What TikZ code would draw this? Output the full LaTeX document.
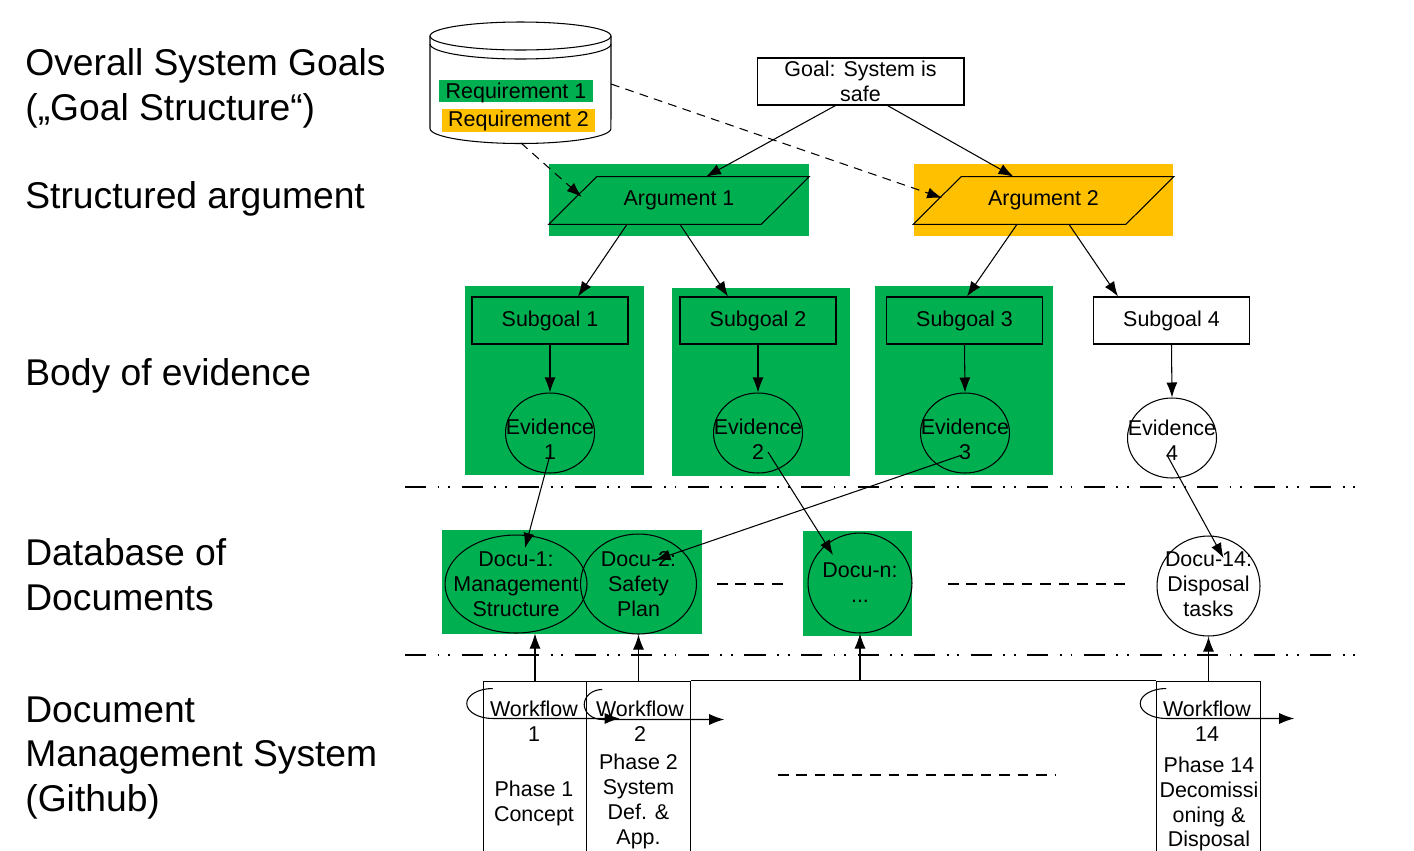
\documentclass[tikz,border=0pt]{standalone}
\usepackage{fontspec}
\setmainfont{Liberation Sans}
\usetikzlibrary{shapes.geometric, arrows.meta, calc}
\definecolor{evgreen}{HTML}{00B050}
\definecolor{evorange}{HTML}{FFC000}

\begin{document}
\begin{tikzpicture}[x=0.02cm, y=-0.02cm,
    every node/.style={font=\fontsize{12.2}{14.2}\selectfont, inner sep=0pt},
    layer/.style={anchor=west, align=left, font=\fontsize{21.2}{25.5}\selectfont},
    thinline/.style={line width=0.6pt},
    topgoal/.style={draw, thinline, minimum width=4.14cm, minimum height=0.94cm, align=center},
    sgbox/.style={draw, thinline, minimum width=3.12cm, minimum height=0.94cm},
    evnode/.style={draw, thinline, ellipse, minimum width=1.78cm, minimum height=1.6cm},
    docnode/.style={draw, thinline, ellipse, minimum height=2cm},
    sgbg/.style={fill=evgreen, minimum width=3.58cm, minimum height=3.78cm},
    argbg/.style={fill=#1, minimum width=5.2cm, minimum height=1.44cm},
    wfbox/.style={draw, thinline, minimum width=2.07cm, minimum height=3.58cm},
    arr/.style={thinline, -{Latex[length=0.3cm, width=0.22cm]}},
    dasharr/.style={arr, dash pattern=on 5pt off 3.6pt},
    gapdash/.style={line width=0.7pt, dash pattern=on 6pt off 4.5pt},
    sepline/.style={line width=0.8pt, dash pattern=on 12pt off 6.5pt on 1.1pt off 5pt on 1.1pt off 6.5pt}
]
    \useasboundingbox (0,0) rectangle (1414,850);

    % Layer names
    \node[layer] (l1) at (25,88) {Overall System Goals\\(„Goal Structure“)};
    \node[layer] (l2) at (25,199) {Structured argument};
    \node[layer] (l3) at (25,376) {Body of evidence};
    \node[layer] (l4) at (25,575) {Database of\\Documents};
    \node[layer] (l5) at (25,758) {Document\\Management System\\(Github)};

    % Requirements database
    \draw[thinline] (430,36) -- (430,128.5) arc[start angle=180, end angle=360, x radius=1.81cm, y radius=0.3cm] -- (611,36);
    \draw[thinline] (520.5,36) ellipse [x radius=1.81cm, y radius=0.28cm];
    \draw[thinline] (430,44) arc[start angle=180, end angle=360, x radius=1.81cm, y radius=0.3cm];
    \node[fill=evgreen, minimum width=3.08cm, minimum height=0.44cm, text depth=0pt] (r1) at (516,91) {Requirement 1};
    \node[fill=evorange, minimum width=3.06cm, minimum height=0.46cm] (r2) at (518.5,120.5) {Requirement 2};
    \coordinate (dbbottom) at (521,143);
    \coordinate (dbside) at (611,84);

    % Goal and arguments
    \node[topgoal] (goal) at (860.5,81.5) {Goal: System is\\safe};
    \node[argbg=evgreen] (a1) at (679,200) {Argument 1};
    \node[argbg=evorange] (a2) at (1043.5,200) {Argument 2};
    \foreach \a in {a1,a2}
        \draw[thinline] ($(\a.north west)+(48,13)$) -- ($(\a.north east)+(0,13)$) -- ($(\a.south east)+(-48,-12)$) -- ($(\a.south west)+(0,-12)$) -- cycle;

    \draw[arr] ($(goal.south)+(-25,0)$) -- ($(a1.north)+(27,13)$);
    \draw[arr] ($(goal.south)+(27,0)$) -- ($(a2.north)+(-30,13)$);
    \draw[dasharr] (dbbottom) -- ($(a1.west)+(33,-3)$);
    \draw[dasharr] (dbside) -- ($(a2.west)+(29,-2)$);

    % Subgoals and evidence
    \node[sgbg] (bg1) at (554.5,380.5) {};
    \node[sgbg] (bg2) at (761,382) {};
    \node[sgbg] (bg3) at (964,380.5) {};
    \node[sgbox] (s1) at (550,320.5) {Subgoal 1};
    \node[sgbox] (s2) at (758,320.5) {Subgoal 2};
    \node[sgbox] (s3) at (964.5,320.5) {Subgoal 3};
    \node[sgbox] (s4) at (1171.5,320.5) {Subgoal 4};
    \node[evnode, label={[align=center, yshift=-0.12cm]center:Evidence\\1}] (e1) at (550,433) {};
    \node[evnode, label={[align=center, yshift=-0.12cm]center:Evidence\\2}] (e2) at (758,433) {};
    \node[evnode, label={[align=center, yshift=-0.12cm]center:Evidence\\3}] (e3) at (965,433) {};
    \node[evnode, label={[align=center, yshift=-0.04cm]center:Evidence\\4}] (e4) at (1172,438) {};

    \draw[arr] ($(a1.south)+(-52,-12)$) -- ($(s1.north)+(28,0)$);
    \draw[arr] ($(a1.south)+(1,-12)$) -- ($(s2.north)+(-30,0)$);
    \draw[arr] ($(a2.south)+(-26.5,-12)$) -- ($(s3.north)+(2.5,0)$);
    \draw[arr] ($(a2.south)+(25.5,-12)$) -- ($(s4.north)+(-53.5,0)$);
    \foreach \i in {1,...,4}
        \draw[arr] (s\i.south) -- (e\i.north);

    % Separators
    \draw[sepline] (405,487) -- (1365,487);
    \draw[sepline] (405,655) -- (1365,655);

    % Documents
    \node[fill=evgreen, minimum width=5.2cm, minimum height=2.08cm] (dbg1) at (572,582) {};
    \node[fill=evgreen, minimum width=2.18cm, minimum height=2.1cm] (dbgn) at (857.5,583.5) {};
    \node[docnode, minimum width=2.84cm, minimum height=1.96cm, label={[align=center]center:Docu-1:\\Management\\Structure}] (d1) at (516,584) {};
    \node[docnode, minimum width=2.32cm, label={[align=center]center:Docu-2:\\Safety\\Plan}] (d2) at (638.5,584) {};
    \node[docnode, minimum width=2.08cm, label={[align=center]center:Docu-n:\\...}] (dn) at (860,583) {};
    \node[docnode, minimum width=2.06cm, label={[align=center, yshift=0.04cm]center:Docu-14:\\Disposal\\tasks}] (d14) at (1208.5,586) {};
    \draw[gapdash] (717,584) -- (790,584);
    \draw[gapdash] (948,584) -- (1130,584);

    \draw[arr] ($(e1.center)+(0,22)$) -- ($(d1.center)+(9,-36)$);
    \draw[arr] ($(e2.center)+(10,19)$) -- ($(dn.center)+(-27,-28)$);
    \draw[arr] ($(e3.center)+(-3,22)$) -- ($(d2.center)+(17,-24)$);
    \draw[arr] ($(e4.center)+(-5,17)$) -- ($(d14.center)+(15,-28)$);

    % Workflows
    \node[wfbox] (wf1) at (535,770.5) {};
    \node[wfbox] (wf2) at (638.5,770.5) {};
    \node[wfbox] (wf14) at (1208.5,770.5) {};
    \draw[thinline] (wf2.north east) -- (wf14.north west);
    \node[align=center] (wt1) at (534,721.5) {Workflow\\1};
    \node[align=center] (wt2) at (640,721.5) {Workflow\\2};
    \node[align=center] (wt14) at (1207,721.5) {Workflow\\14};
    \node[align=center] (ph1) at (534,803) {Phase 1\\Concept};
    \node[align=center] (ph2) at (638.5,801.5) {Phase 2\\System\\Def. \&\\App.};
    \node[align=center] (ph14) at (1209,804) {Phase 14\\Decomissi\\oning \&\\Disposal};
    \draw[gapdash] (778,775) -- (1055,775);

    \draw[arr] ($(wf1.north west)+(10,8)$) arc[start angle=90, end angle=270, x radius=0.52cm, y radius=0.3cm] -- ++(127,0);
    \draw[arr] ($(wf2.north west)+(16,9)$) arc[start angle=90, end angle=270, x radius=0.36cm, y radius=0.3cm] -- ++(122,0);
    \draw[arr] ($(wf14.north west)+(10,8)$) arc[start angle=90, end angle=270, x radius=0.52cm, y radius=0.3cm] -- ++(128,0);

    \coordinate (dnfoot) at (dn.south |- wf2.north);
    \draw[arr] (wf1.north) -- (wf1.north |- d1.south);
    \draw[arr] (wf2.north) -- (d2.south);
    \draw[arr] (dnfoot) -- (dn.south);
    \draw[arr] (wf14.north) -- (d14.south);
\end{tikzpicture}
\end{document}
